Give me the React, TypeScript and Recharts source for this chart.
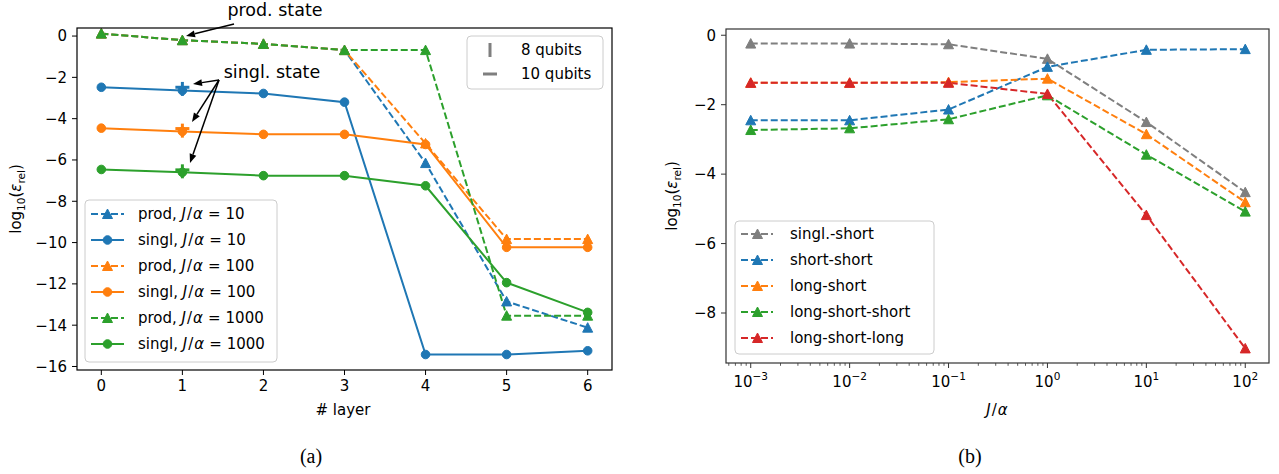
import React from 'react';
import { Line, LineChart, XAxis, YAxis } from 'recharts';

const FONT = '"DejaVu Sans", sans-serif';
const BLUE = '#1f77b4';
const ORANGE = '#ff7f0e';
const GREEN = '#2ca02c';
const RED = '#d62728';
const GREY = '#7f7f7f';

// (a) relative error vs. number of layers
const layers = [0, 1, 2, 3, 4, 5, 6];
const prodJ10 = [0.12, -0.2, -0.38, -0.68, -6.15, -12.85, -14.12];
const singlJ10 = [-2.48, -2.64, -2.78, -3.2, -15.42, -15.42, -15.24];
const prodJ100 = [0.12, -0.2, -0.38, -0.68, -5.2, -9.83, -9.83];
const singlJ100 = [-4.46, -4.62, -4.76, -4.76, -5.25, -10.23, -10.23];
const prodJ1000 = [0.12, -0.2, -0.38, -0.68, -0.68, -13.54, -13.54];
const singlJ1000 = [-6.46, -6.6, -6.76, -6.76, -7.25, -11.94, -13.38];
// singlet state at layer 1, for J/α = 10, 100, 1000
const qubitLayer = 1;
const qubits8 = [-2.56, -4.58, -6.55];
const qubits10 = [-2.48, -4.48, -6.48];
const layerTicks = [0, 1, 2, 3, 4, 5, 6];
const leftYTicks = [0, -2, -4, -6, -8, -10, -12, -14, -16];

// (b) relative error vs. J/α
const jAlpha = [1e-3, 1e-2, 1e-1, 1, 10, 100];
const singlShort = [-0.24, -0.24, -0.26, -0.68, -2.5, -4.52];
const shortShort = [-2.45, -2.45, -2.14, -0.91, -0.42, -0.4];
const longShort = [-1.37, -1.37, -1.35, -1.25, -2.85, -4.81];
const longShortShort = [-2.73, -2.68, -2.42, -1.73, -3.44, -5.08];
const longShortLong = [-1.37, -1.37, -1.37, -1.69, -5.18, -9.02];
const rightYTicks = [0, -2, -4, -6, -8];
const decades = [-3, -2, -1, 0, 1, 2];

const leftData = layers.map((layer, i) => ({
  layer,
  prod10: prodJ10[i],
  singl10: singlJ10[i],
  prod100: prodJ100[i],
  singl100: singlJ100[i],
  prod1000: prodJ1000[i],
  singl1000: singlJ1000[i],
  q8_10: layer === qubitLayer ? qubits8[0] : null,
  q8_100: layer === qubitLayer ? qubits8[1] : null,
  q8_1000: layer === qubitLayer ? qubits8[2] : null,
  q10_10: layer === qubitLayer ? qubits10[0] : null,
  q10_100: layer === qubitLayer ? qubits10[1] : null,
  q10_1000: layer === qubitLayer ? qubits10[2] : null,
}));

const rightData = jAlpha.map((j, i) => ({
  j,
  singlShort: singlShort[i],
  shortShort: shortShort[i],
  longShort: longShort[i],
  longShortShort: longShortShort[i],
  longShortLong: longShortLong[i],
}));

type Mk = 'tri' | 'circ' | 'vbar' | 'hbar';

const leftSeries = [
  { key: 'prod10', color: BLUE, dashed: true, mk: 'tri' as Mk, name: 'prod', j: '10' },
  { key: 'singl10', color: BLUE, dashed: false, mk: 'circ' as Mk, name: 'singl', j: '10' },
  { key: 'prod100', color: ORANGE, dashed: true, mk: 'tri' as Mk, name: 'prod', j: '100' },
  { key: 'singl100', color: ORANGE, dashed: false, mk: 'circ' as Mk, name: 'singl', j: '100' },
  { key: 'prod1000', color: GREEN, dashed: true, mk: 'tri' as Mk, name: 'prod', j: '1000' },
  { key: 'singl1000', color: GREEN, dashed: false, mk: 'circ' as Mk, name: 'singl', j: '1000' },
];

const qubitSeries = [
  { key: 'q8_10', color: BLUE, mk: 'vbar' as Mk },
  { key: 'q10_10', color: BLUE, mk: 'hbar' as Mk },
  { key: 'q8_100', color: ORANGE, mk: 'vbar' as Mk },
  { key: 'q10_100', color: ORANGE, mk: 'hbar' as Mk },
  { key: 'q8_1000', color: GREEN, mk: 'vbar' as Mk },
  { key: 'q10_1000', color: GREEN, mk: 'hbar' as Mk },
];

const rightSeries = [
  { key: 'singlShort', color: GREY, name: 'singl.-short' },
  { key: 'shortShort', color: BLUE, name: 'short-short' },
  { key: 'longShort', color: ORANGE, name: 'long-short' },
  { key: 'longShortShort', color: GREEN, name: 'long-short-short' },
  { key: 'longShortLong', color: RED, name: 'long-short-long' },
];

function Marker({ mk, color, cx, cy }: { mk: Mk; color: string; cx: number; cy: number }) {
  if (mk === 'tri') {
    return (
      <path
        d={`M${cx},${cy - 5} L${cx + 5},${cy + 4.5} L${cx - 5},${cy + 4.5} Z`}
        fill={color}
        stroke={color}
        strokeWidth={1}
        strokeLinejoin="miter"
      />
    );
  }
  if (mk === 'circ') return <circle cx={cx} cy={cy} r={4.3} fill={color} stroke={color} strokeWidth={1} />;
  if (mk === 'vbar') return <line x1={cx} x2={cx} y1={cy - 7} y2={cy + 7} stroke={color} strokeWidth={3} />;
  return <line x1={cx - 7} x2={cx + 7} y1={cy} y2={cy} stroke={color} strokeWidth={3} />;
}

const makeDot = (mk: Mk, color: string) => (p: any) => {
  const { cx, cy, value, index } = p;
  const k = `${mk}-${color}-${index}`;
  if (value == null || cx == null || cy == null || Number.isNaN(cy)) return <g key={k} />;
  return (
    <g key={k}>
      <Marker mk={mk} color={color} cx={cx} cy={cy} />
    </g>
  );
};

const minus = (v: number) => (v < 0 ? `\u2212${Math.abs(v)}` : `${v}`);

const minorTicks: number[] = [];
[-4, -3, -2, -1, 0, 1, 2].forEach((d) => {
  [2, 3, 4, 5, 6, 7, 8, 9].forEach((m) => {
    const v = m * Math.pow(10, d);
    if (v > Math.pow(10, -3.25) && v < Math.pow(10, 2.24)) minorTicks.push(v);
  });
});
const majorTicks = decades.map((d) => Math.pow(10, d));
const allXTicks = [...majorTicks, ...minorTicks].sort((a, b) => a - b);

function LogTick(props: any) {
  const { x, y, payload } = props;
  const v = payload.value as number;
  const e = Math.round(Math.log10(v));
  const major = Math.abs(Math.log10(v) - e) < 1e-6;
  if (!major) {
    return <line x1={x} x2={x} y1={y} y2={y + 2.8} stroke="#333" strokeWidth={0.8} />;
  }
  return (
    <g>
      <line x1={x} x2={x} y1={y} y2={y + 5} stroke="#333" strokeWidth={1} />
      <text x={x} y={y + 24} textAnchor="middle" fontSize={15} fontFamily={FONT} fill="#000">
        <tspan>10</tspan>
        <tspan dy={-7} fontSize={10.5}>
          {e < 0 ? `\u2212${-e}` : `${e}`}
        </tspan>
      </text>
    </g>
  );
}

function JAlpha() {
  return (
    <>
      <tspan fontStyle="italic">J</tspan>
      <tspan dx={1}>/</tspan>
      <tspan dx={1} fontStyle="italic">α</tspan>
    </>
  );
}

function YTitle({ x, y }: { x: number; y: number }) {
  return (
    <text transform={`translate(${x},${y}) rotate(-90)`} textAnchor="middle" fontSize={15} fontFamily={FONT} fill="#000">
      <tspan>log</tspan>
      <tspan dy={4} fontSize={10.5}>10</tspan>
      <tspan dy={-4}>(</tspan>
      <tspan fontStyle="italic">ε</tspan>
      <tspan dy={4} fontSize={10.5}>rel</tspan>
      <tspan dy={-4}>)</tspan>
    </text>
  );
}

function Arrow({ x1, y1, x2, y2 }: { x1: number; y1: number; x2: number; y2: number }) {
  const a = Math.atan2(y2 - y1, x2 - x1);
  const L = 9;
  const W = 3.5;
  const bx = x2 - L * Math.cos(a);
  const by = y2 - L * Math.sin(a);
  const px = -Math.sin(a) * W;
  const py = Math.cos(a) * W;
  return (
    <g>
      <line x1={x1} y1={y1} x2={bx} y2={by} stroke="#000" strokeWidth={1.5} />
      <path d={`M${x2},${y2} L${bx + px},${by + py} L${bx - px},${by - py} Z`} fill="#000" />
    </g>
  );
}

function Overlay() {
  const leftRows = [214, 240, 266, 292, 318, 344];
  const rightRows = [234, 260, 286, 312, 338];
  return (
    <svg width={1279} height={474} style={{ position: 'absolute', left: 0, top: 0, pointerEvents: 'none' }}>
      {/* frames */}
      <rect x={77} y={28} width={535} height={342} fill="none" stroke="#000" strokeWidth={1.2} />
      <rect x={726} y={29} width={543} height={334} fill="none" stroke="#333" strokeWidth={1.2} />

      {/* annotations */}
      <text x={275} y={16} textAnchor="middle" fontSize={17.5} fontFamily={FONT} fill="#000">prod. state</text>
      <Arrow x1={234} y1={24} x2={186} y2={36} />
      <text x={272} y={78} textAnchor="middle" fontSize={17.5} fontFamily={FONT} fill="#000">singl. state</text>
      <Arrow x1={219} y1={80} x2={193} y2={84} />
      <Arrow x1={219} y1={80} x2={192} y2={122} />
      <Arrow x1={219} y1={80} x2={190} y2={163} />

      {/* qubit legend */}
      <rect x={467} y={36} width={136} height={53} rx={4} fill="#fff" fillOpacity={0.8} stroke="#ccc" />
      <line x1={490} x2={490} y1={43} y2={57} stroke={GREY} strokeWidth={3} />
      <text x={521} y={55} fontSize={15} fontFamily={FONT} fill="#000">8 qubits</text>
      <line x1={483} x2={497} y1={74} y2={74} stroke={GREY} strokeWidth={3} />
      <text x={521} y={79} fontSize={15} fontFamily={FONT} fill="#000">10 qubits</text>

      {/* left legend */}
      <rect x={85} y={200} width={192} height={162} rx={4} fill="#fff" fillOpacity={0.8} stroke="#ccc" />
      {leftSeries.map((s, i) => (
        <g key={s.key}>
          <line x1={91} x2={124} y1={leftRows[i]} y2={leftRows[i]} stroke={s.color} strokeWidth={2} strokeDasharray={s.dashed ? '7 3' : undefined} />
          <Marker mk={s.mk} color={s.color} cx={107.5} cy={leftRows[i]} />
          <text x={138} y={leftRows[i] + 5} fontSize={15} fontFamily={FONT} fill="#000">
            <tspan>{s.name}, </tspan>
            <JAlpha />
            <tspan dx={5}>=</tspan>
            <tspan dx={5}>{s.j}</tspan>
          </text>
        </g>
      ))}

      {/* right legend */}
      <rect x={735} y={221} width={199} height={133} rx={4} fill="#fff" fillOpacity={0.8} stroke="#ccc" />
      {rightSeries.map((s, i) => (
        <g key={s.key}>
          <line x1={741} x2={773} y1={rightRows[i]} y2={rightRows[i]} stroke={s.color} strokeWidth={2} strokeDasharray="7 3" />
          <Marker mk="tri" color={s.color} cx={757.5} cy={rightRows[i]} />
          <text x={790} y={rightRows[i] + 5} fontSize={15} fontFamily={FONT} fill="#000">{s.name}</text>
        </g>
      ))}

      {/* axis titles */}
      <YTitle x={21} y={199} />
      <YTitle x={677} y={196} />
      <text x={343} y={415} textAnchor="middle" fontSize={15} fontFamily={FONT} fill="#000"># layer</text>
      <text x={997} y={415} textAnchor="middle" fontSize={15} fontFamily={FONT} fill="#000">
        <JAlpha />
      </text>

      {/* captions */}
      <text x={311} y={463} textAnchor="middle" fontSize={20} fontFamily='"Liberation Serif", serif' fill="#000">(a)</text>
      <text x={970} y={463} textAnchor="middle" fontSize={20} fontFamily='"Liberation Serif", serif' fill="#000">(b)</text>
    </svg>
  );
}

const tickStyle = { fill: '#000', fontSize: 15, fontFamily: FONT };

export default function App() {
  return (
    <div style={{ position: 'absolute', left: 0, top: 0, width: 1279, height: 474, background: '#fff' }}>
      <div style={{ position: 'absolute', left: 0, top: 0 }}>
        <LineChart width={630} height={420} data={leftData} margin={{ top: 28, right: 18, bottom: 0, left: 0 }}>
          <XAxis
            dataKey="layer"
            type="number"
            domain={[-0.3, 6.3]}
            ticks={layerTicks}
            interval={0}
            allowDataOverflow
            axisLine={false}
            tickSize={5}
            tickMargin={5}
            height={50}
            tick={tickStyle}
            tickLine={{ stroke: '#000' }}
          />
          <YAxis
            type="number"
            domain={[-16.17, 0.39]}
            ticks={leftYTicks}
            interval={0}
            allowDataOverflow
            axisLine={false}
            width={77}
            tickSize={5}
            tickMargin={5}
            tick={tickStyle}
            tickLine={{ stroke: '#000' }}
            tickFormatter={minus}
          />
          {leftSeries.map((s) => (
            <Line
              key={s.key}
              dataKey={s.key}
              type="linear"
              stroke={s.color}
              strokeWidth={2}
              strokeDasharray={s.dashed ? '7 3' : undefined}
              dot={makeDot(s.mk, s.color)}
              activeDot={false}
              isAnimationActive={false}
            />
          ))}
          {qubitSeries.map((s) => (
            <Line
              key={s.key}
              dataKey={s.key}
              stroke="none"
              dot={makeDot(s.mk, s.color)}
              activeDot={false}
              isAnimationActive={false}
            />
          ))}
        </LineChart>
      </div>
      <div style={{ position: 'absolute', left: 640, top: 0 }}>
        <LineChart width={639} height={420} data={rightData} margin={{ top: 29, right: 10, bottom: 0, left: 0 }}>
          <XAxis
            dataKey="j"
            type="number"
            scale="log"
            domain={[Math.pow(10, -3.25), Math.pow(10, 2.24)]}
            ticks={allXTicks}
            interval={0}
            allowDataOverflow
            axisLine={false}
            tickLine={false}
            tickSize={0}
            tickMargin={0}
            height={57}
            tick={(p: any) => <LogTick {...p} />}
          />
          <YAxis
            type="number"
            domain={[-9.44, 0.18]}
            ticks={rightYTicks}
            interval={0}
            allowDataOverflow
            axisLine={false}
            width={86}
            tickSize={5}
            tickMargin={5}
            tick={tickStyle}
            tickLine={{ stroke: '#333' }}
            tickFormatter={minus}
          />
          {rightSeries.map((s) => (
            <Line
              key={s.key}
              dataKey={s.key}
              type="linear"
              stroke={s.color}
              strokeWidth={2}
              strokeDasharray="7 3"
              dot={makeDot('tri', s.color)}
              activeDot={false}
              isAnimationActive={false}
            />
          ))}
        </LineChart>
      </div>
      <Overlay />
    </div>
  );
}
